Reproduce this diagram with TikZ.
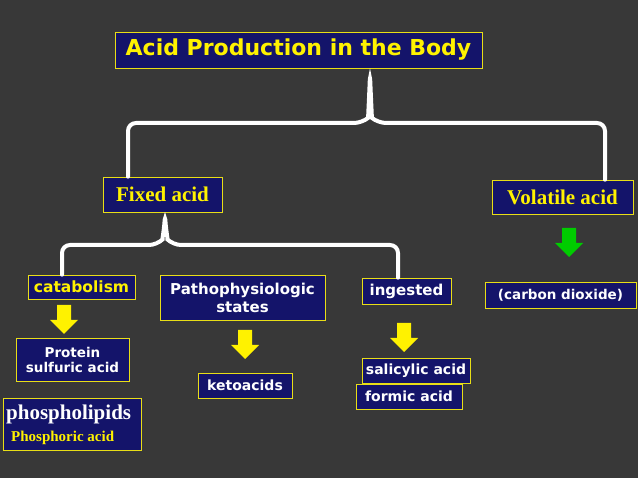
\documentclass[tikz,border=0pt]{standalone}
\usepackage{fontspec}
\setmainfont{Liberation Serif}
\setsansfont{DejaVu Sans}
\definecolor{navy}{HTML}{14146A}
\begin{document}
\begin{tikzpicture}[x=1pt,y=-1pt,
  box/.style={draw=yellow!90!black,line width=0.6pt,fill=navy,inner sep=0pt,font=\sffamily\bfseries},
  sbox/.style={draw=yellow!90!black,line width=0.6pt,fill=navy,inner sep=0pt,font=\rmfamily\bfseries},
  brace/.style={draw=white,line width=4pt,rounded corners=8pt,line cap=round},
]
\fill[black!78] (0,0) rectangle (638,478);
\useasboundingbox (0,0) rectangle (638,478);
\node[box,minimum width=367pt,minimum height=36pt,text=yellow,font=\sffamily\bfseries\fontsize{22}{24}\selectfont] (title) at (298.5,50) {Acid Production in the Body};
\node[sbox,minimum width=119pt,minimum height=35pt,text=yellow,font=\rmfamily\bfseries\fontsize{21}{23}\selectfont] (fixed) at (162.5,194.5) {Fixed acid};
\node[sbox,minimum width=141pt,minimum height=34pt,text=yellow,font=\rmfamily\bfseries\fontsize{21}{23}\selectfont] (vol) at (562.5,197) {Volatile acid};
\draw[brace] (fixed.north -| 128,0) -- (128,123) -- (362,123) .. controls (368,118) and (369,100) .. (370,74) .. controls (371,100) and (372,118) .. (378,123) -- (605,123) -- (vol.north -| 605,0);
\node[box,minimum width=107pt,minimum height=24pt,text=yellow,font=\sffamily\bfseries\fontsize{15.5}{17}\selectfont] (cat) at (81.5,287) {catabolism};
\node[box,minimum width=165pt,minimum height=45pt,text=white,align=center,font=\sffamily\bfseries\fontsize{15}{18}\selectfont] (patho) at (242.5,297.5) {Pathophysiologic\\states};
\node[box,minimum width=89pt,minimum height=26pt,text=white,font=\sffamily\bfseries\fontsize{15}{17}\selectfont] (ing) at (406.5,291) {ingested};
\node[box,minimum width=151pt,minimum height=26pt,text=white,font=\sffamily\bfseries\fontsize{13.5}{15}\selectfont] (co2) at (560.5,295) {(carbon dioxide)};
\draw[brace] (cat.north -| 62,0) -- (62,245) -- (157,245) .. controls (162,240) and (164,230) .. (165,214) .. controls (166,230) and (168,240) .. (173,245) -- (398,245) -- (ing.north -| 398,0);
\node[box,minimum width=113pt,minimum height=43pt,text=white,align=center,font=\sffamily\bfseries\fontsize{13.5}{16}\selectfont] (prot) at (72.5,359.5) {Protein\\[-1pt]sulfuric acid};
\node[sbox,minimum width=138pt,minimum height=52pt,anchor=north west] (phos) at (3,398) {};
\node[text=white,font=\rmfamily\bfseries\fontsize{21}{23}\selectfont,anchor=west,inner sep=0pt] (phost) at (6,414) {phospholipids};
\node[text=yellow,font=\rmfamily\bfseries\fontsize{15}{17}\selectfont,anchor=west,inner sep=0pt] (phosa) at (11,438) {Phosphoric acid};
\node[box,minimum width=94pt,minimum height=25pt,text=white,font=\sffamily\bfseries\fontsize{14}{16}\selectfont] (keto) at (245,385.5) {ketoacids};
\node[box,minimum width=108pt,minimum height=25pt,text=white,font=\sffamily\bfseries\fontsize{14}{16}\selectfont] (sal) at (416,370.5) {salicylic acid};
\node[box,minimum width=106pt,minimum height=25pt,text=white,font=\sffamily\bfseries\fontsize{14}{16}\selectfont] (form) at (409,396.5) {formic acid};
\foreach \x/\y/\c in {64/305/yellow,245/330/yellow,404/323/yellow,569/228/green!80!black}{
  \fill[\c] (\x-7,\y) -- (\x+7,\y) -- (\x+7,\y+15) -- (\x+14,\y+15) -- (\x,\y+29) -- (\x-14,\y+15) -- (\x-7,\y+15) -- cycle;
}
\end{tikzpicture}
\end{document}
